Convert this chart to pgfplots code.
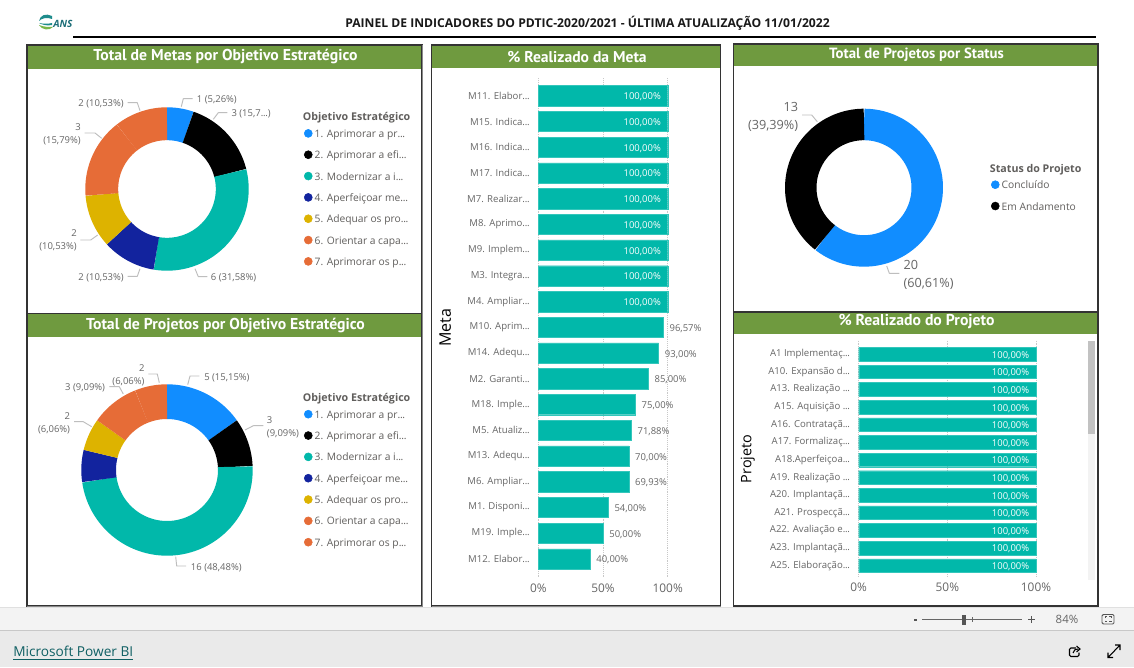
\documentclass[border=0pt]{standalone}
\usepackage{fontspec}
\usepackage{pgfplots}
\usepackage{pgfplotstable}
\pgfplotsset{compat=1.18}
\setmainfont{Open Sans}
\newfontfamily\din{PT Sans}
\protected\def\el{.\kern-0.2pt.\kern-0.2pt.}
\definecolor{cblue}{HTML}{118DFF}
\definecolor{cblack}{HTML}{000000}
\definecolor{cteal}{HTML}{01B8AA}
\definecolor{cnavy}{HTML}{12239E}
\definecolor{cgold}{HTML}{DDB300}
\definecolor{corange}{HTML}{E66C37}
\definecolor{cgreen}{HTML}{6F9A3F}
\definecolor{ctxt}{HTML}{666666}
\definecolor{cleg}{HTML}{605E5C}
\definecolor{cgrid}{HTML}{C8C8C8}
\definecolor{clead}{HTML}{BEBEBE}
\definecolor{gF3}{HTML}{F3F3F3}
\definecolor{gEA}{HTML}{EAEAEA}
\definecolor{gE0}{HTML}{E0E0E0}
\definecolor{gC8}{HTML}{C8C8C8}
\definecolor{g33}{HTML}{333333}
\definecolor{g8A}{HTML}{8A8A8A}
\definecolor{gC2}{HTML}{C2C2C2}
\definecolor{g66}{HTML}{666666}
\definecolor{g55}{HTML}{555555}
\definecolor{logoT}{HTML}{1E8C8C}
\definecolor{logoG}{HTML}{7AB648}
\definecolor{logoA}{HTML}{1C6E78}
\definecolor{linkc}{HTML}{0F5F63}

\pgfplotstableread{
v c
1 cblue
3 cblack
6 cteal
2 cnavy
2 cgold
3 corange
2 corange
}\tabMetas
\pgfplotstableread{
v c
5 cblue
3 cblack
16 cteal
2 cnavy
2 cgold
3 corange
2 corange
}\tabProj
\pgfplotstableread{
v c
20 cblue
13 cblack
}\tabStatus
\pgfplotstableread{
i v
0 100
1 100
2 100
3 100
4 100
5 100
6 100
7 100
8 100
}\tabMfull
\pgfplotstableread{
i v
9 96.57
10 93
11 85
12 75
13 71.88
14 70
15 69.93
16 54
17 50
18 40
}\tabMrest
\pgfplotstableread{
i v
0 100
1 100
2 100
3 100
4 100
5 100
6 100
7 100
8 100
9 100
10 100
11 100
12 100
}\tabP

\newcommand\donut[5]{% table, mid radius, thickness, total, last row
  \def\acc{0}%
  \pgfplotsforeachungrouped \i in {0,...,#5}{%
    \pgfplotstablegetelem{\i}{v}\of{#1}\let\val\pgfplotsretval
    \pgfplotstablegetelem{\i}{c}\of{#1}\let\col\pgfplotsretval
    \pgfmathsetmacro\nxt{\acc+\val}%
    \edef\tmp{\noexpand\addplot[forget plot, draw=\col, line width=#3*0.75pt, line cap=butt, line join=round, no markers, samples=60, domain=\acc:\nxt] ({#2*cos(90-360*x/#4)},{#2*sin(90-360*x/#4)});}%
    \tmp
    \let\acc\nxt
  }%
}
\newcommand\legdot[2]{\addlegendimage{legend image code/.code={\fill[#1] (0pt,0pt) circle (3pt);}}\addlegendentry{#2}}
\newcommand\legtitle[1]{\addlegendimage{empty legend}\addlegendentry{\hspace*{-8.8pt}\raisebox{-3.5pt}[0pt][0pt]{\fontsize{8pt}{10pt}\selectfont\textbf{#1}}}}

\pgfplotsset{
  donutaxis/.style={
    scale only axis, width=150pt, height=150pt,
    xmin=-100, xmax=100, ymin=-100, ymax=100,
    axis lines=none, clip=false, anchor=center,
    legend cell align=left,
    legend style={draw=none, fill=none, anchor=north west, inner sep=0pt, outer sep=0pt,
      row sep=6pt, text=cleg, font=\fontsize{7.7pt}{10pt}\selectfont,
      nodes={inner xsep=1.6pt, inner ysep=0pt, text height=8pt, text depth=2pt}},
  },
  baraxis/.style={
    scale only axis, xbar, bar shift=0pt,
    xmin=0, xmax=100, y dir=reverse, anchor=north west, clip=false,
    axis line style={draw=none}, major tick length=0pt,
    xmajorgrids, ymajorgrids=false,
    grid style={densely dotted, cgrid, line width=0.6pt},
    xtick={0,50,100}, xticklabels={0\%,50\%,100\%},
    xticklabel style={font=\fontsize{8.9pt}{12pt}\selectfont, text=ctxt, yshift=-1.2pt},
    yticklabel style={font=\fontsize{7.2pt}{10pt}\selectfont, text=ctxt, anchor=east, xshift=-3pt},
    point meta=x,
    /pgf/number format/assume math mode=true,
    every axis y label/.style={rotate=90, anchor=center, text=black},
  },
  inlab/.style={fill=cteal, draw=cteal!80!white, line width=0.3pt, nodes near coords={\pgfmathprintnumber[fixed,fixed zerofill,precision=2,use comma]{\pgfplotspointmeta}\%},
     nodes near coords style={font=\fontsize{7.1pt}{10pt}\selectfont, text=white, anchor=east, inner sep=0pt, xshift=-5pt, yshift=-0.9pt}},
  outlab/.style={fill=cteal, draw=cteal!80!white, line width=0.3pt, nodes near coords={\pgfmathprintnumber[fixed,fixed zerofill,precision=2,use comma]{\pgfplotspointmeta}\%},
     nodes near coords style={font=\fontsize{7.1pt}{10pt}\selectfont, text=ctxt, anchor=west, inner sep=0pt, xshift=4.6pt, yshift=-0.9pt}},
}

\begin{document}
\begin{tikzpicture}
\begin{scope}[x=0.75pt,y=-0.75pt]
\path[use as bounding box] (0,0) rectangle (1134,667);
\fill[white] (0,0) rectangle (1134,667);
% bottom bars
\fill[gF3] (0,607) rectangle (1134,630);
\fill[gEA] (0,631) rectangle (1134,667);
\draw[gE0, line width=0.75pt] (0,607) -- (1134,607);
\draw[gC8, line width=1pt] (0,630.5) -- (1134,630.5);
% header
\draw[black, line width=1.6pt] (73,37) -- (1096,37);
\node[font=\fontsize{9.1pt}{11pt}\selectfont\bfseries, text=black!90, inner sep=0pt] at (587.5,23.5) {PAINEL DE INDICADORES DO PDTIC-2020/2021 - ÚLTIMA ATUALIZAÇÃO 11/01/2022};
% logo
\fill[logoT] (52,16) .. controls (46,13) and (40,15) .. (39,21) .. controls (42,18) and (47,17) .. (52,19) -- cycle;
\fill[logoG] (39,25) .. controls (42,30) and (49,31) .. (53,27) .. controls (48,27) and (44,27) .. (39,25) -- cycle;
\fill[logoT] (39,23) .. controls (44,24) and (48,24) .. (52,23) -- (52,25) .. controls (47,26) and (43,25) .. (39,23) -- cycle;
\node[font=\fontsize{7.5pt}{8pt}\selectfont\bfseries\itshape, text=logoA, inner sep=0pt, anchor=west] at (53,24) {ANS};
% panels
\foreach \xa/\ya/\xb/\yb/\gb in {27/45/422/313.5/69, 27/313.5/422/606/337, 431.5/45/720.5/606/68.5, 733.5/44/1098/312/66.5, 733.5/312/1098/606/333.5}{
  \fill[white] (\xa,\ya) rectangle (\xb,\yb);
  \fill[cgreen] (\xa,\ya) rectangle (\xb,\gb);
  \draw[g33, line width=0.8pt] (\xa,\ya) rectangle (\xb,\yb);
}
\draw[g8A, line width=1.1pt] (422.3,45) -- (422.3,606.3) -- (27,606.3);
\draw[g8A, line width=1.1pt] (431.5,606.3) -- (720.5,606.3);
% panel titles
\begin{scope}[every node/.style={text=white, inner sep=0pt}]
\node[font=\din\bfseries\fontsize{11.8pt}{14pt}\selectfont] at (225.5,56.8) {Total de Metas por Objetivo Estratégico};
\node[font=\din\bfseries\fontsize{11.8pt}{14pt}\selectfont] at (225.5,325.8) {Total de Projetos por Objetivo Estratégico};
\node[font=\din\bfseries\fontsize{11.7pt}{14pt}\selectfont] at (577,56.8) {\% Realizado da Meta};
\node[font=\din\bfseries\fontsize{11.1pt}{14pt}\selectfont] at (916.5,55) {Total de Projetos por Status};
\node[font=\din\bfseries\fontsize{11.8pt}{14pt}\selectfont] at (916.5,322) {\% Realizado do Projeto};
\end{scope}
% scrollbar
\fill[gF3] (1088,340.7) rectangle (1095,580);
\fill[gC2] (1088,340.7) rectangle (1095,434);
% footer controls
\draw[g66, line width=0.8pt] (922,619.5) -- (1022,619.5);
\draw[g66, line width=0.6pt] (972,617) -- (972,622);
\fill[g55] (962,614.5) rectangle (966,624.5);
\fill[g55] (913.5,618.5) rectangle (917,620.5);
\draw[g55, line width=0.8pt] (1028,619.5) -- (1035,619.5) (1031.5,616) -- (1031.5,623);
\node[font=\fontsize{8.6pt}{10pt}\selectfont, text=g66, inner sep=0pt] at (1067,619) {84\%};
\draw[g55, line width=0.7pt, rounded corners=1pt] (1102,614.5) rectangle (1114,624);
\draw[g55, line width=0.7pt] (1105,618) -- (1105,616.8) -- (1107,616.8) (1109,616.8) -- (1111,616.8) -- (1111,618) (1105,620.5) -- (1105,621.8) -- (1107,621.8) (1109,621.8) -- (1111,621.8) -- (1111,620.5);
\node[font=\fontsize{10.25pt}{12pt}\selectfont, text=linkc, inner sep=0pt, anchor=west] at (13,653) {\underline{Microsoft Power BI}};
\draw[black, line width=0.8pt, rounded corners=1pt] (1076,648) -- (1069.5,648) -- (1069.5,656.5) -- (1079,656.5) -- (1079,652.5);
\draw[black, line width=0.8pt] (1073,653) .. controls (1073.5,650) and (1075.5,649) .. (1078,649) (1076.5,646) -- (1080,649) -- (1076.5,652);
\draw[black, line width=0.8pt] (1108,657.5) -- (1120,645) (1115,645) -- (1120,645) -- (1120,650) (1108,652.5) -- (1108,657.5) -- (1113,657.5);
% labels of donut 1
\begin{scope}[every node/.style={inner sep=0pt, text=ctxt, font=\fontsize{7.1pt}{10pt}\selectfont, align=right}]
\node[anchor=west] at (196.7,100) {1 (5,26\%)};
\node[anchor=west] at (231.3,114) {3 (15,7\el)};
\node[anchor=west] at (210.7,278) {6 (31,58\%)};
\node[anchor=east] at (124,278) {2 (10,53\%)};
\node[anchor=east] at (77,240.5) {2\\(10,53\%)};
\node[anchor=east] at (81,134) {3\\(15,79\%)};
\node[anchor=east] at (124,104) {2 (10,53\%)};
% donut 2
\node[anchor=west] at (204,378) {5 (15,15\%)};
\node[anchor=west,align=left] at (266.7,427.3) {3\\(9,09\%)};
\node[anchor=west] at (190.7,568) {16 (48,48\%)};
\node[anchor=east] at (70.3,423.5) {2\\(6,06\%)};
\node[anchor=east] at (105.3,388) {3 (9,09\%)};
\node[anchor=east] at (144.7,375.3) {2\\(6,06\%)};
% donut 3
\node[anchor=east, font=\fontsize{9.5pt}{13.7pt}\selectfont] at (798.3,117) {13\\(39,39\%)};
\node[anchor=west, align=left, font=\fontsize{9.5pt}{13.7pt}\selectfont] at (903.3,275) {20\\(60,61\%)};
\end{scope}
% leaders
\begin{scope}[clead, line width=0.7pt, line join=round]
\draw (181.3,106.7) -- (183.3,98.7) -- (192.7,98.7);
\draw (213.3,119.3) -- (218.3,112.7) -- (227.3,112.7);
\draw (195,268.7) -- (198.3,276.7) -- (207.3,276.7);
\draw (140,268.7) -- (137.3,276.3) -- (127.7,276.3);
\draw (97.7,235) -- (90.7,240) -- (80.3,240);
\draw (101.7,138.3) -- (95,133) -- (84.7,133);
\draw (140,110.7) -- (137.3,102.7) -- (127.7,102.7);
\draw (187.7,384.7) -- (190,376) -- (199.3,376);
\draw (245,430) -- (253.3,425.7) -- (263.3,425.7);
\draw (175.7,556.7) -- (176.7,566) -- (186,566);
\draw (91.7,426.7) -- (83.3,421.7) -- (74,421.7);
\draw (123.3,394) -- (119.3,386.7) -- (109.3,386.7);
\draw (159.3,382.7) -- (157.3,374) -- (148.3,374);
\draw (817.3,121.7) -- (811.7,115) -- (802,115);
\draw (886.7,266) -- (889.3,273.3) -- (899.3,273.3);
\end{scope}
\end{scope}

% donut 1
\begin{axis}[donutaxis, at={({167*0.75pt},{-189*0.75pt})},
  legend style={at={(1.185,0.918)}}]
\donut{\tabMetas}{65.25}{32.9}{19}{6}
\legtitle{Objetivo Estratégico}
\legdot{cblue}{1. Aprimorar a pr\el}
\legdot{cblack}{2. Aprimorar a efi\el}
\legdot{cteal}{3. Modernizar a i\el}
\legdot{cnavy}{4. Aperfeiçoar me\el}
\legdot{cgold}{5. Adequar os pro\el}
\legdot{corange}{6. Orientar a capa\el}
\legdot{corange}{7. Aprimorar os p\el}
\end{axis}
% donut 2
\begin{axis}[donutaxis, at={({167*0.75pt},{-470*0.75pt})},
  legend style={at={(1.185,0.919)}}]
\donut{\tabProj}{68.35}{34.7}{33}{6}
\legtitle{Objetivo Estratégico}
\legdot{cblue}{1. Aprimorar a pr\el}
\legdot{cblack}{2. Aprimorar a efi\el}
\legdot{cteal}{3. Modernizar a i\el}
\legdot{cnavy}{4. Aperfeiçoar me\el}
\legdot{cgold}{5. Adequar os pro\el}
\legdot{corange}{6. Orientar a capa\el}
\legdot{corange}{7. Aprimorar os p\el}
\end{axis}
% donut 3
\begin{axis}[donutaxis, at={({864*0.75pt},{-187.7*0.75pt})},
  legend style={at={(1.135,0.655)}}]
\donut{\tabStatus}{63.25}{31.5}{33}{1}
\legtitle{Status do Projeto}
\legdot{cblue}{Concluído}
\legdot{cblack}{Em Andamento}
\end{axis}
% metas bars
\begin{axis}[baraxis, at={({538.3*0.75pt},{-78*0.75pt})},
  width=129.4*0.75pt, height=500*0.75pt,
  ymin=-0.688, ymax=18.74, bar width=20.3*0.75pt,
  ytick={0,...,18},
  yticklabels={M11. Elabor\el,M15. Indica\el,M16. Indica\el,M17. Indica\el,M7. Realizar\el,M8. Aprimo\el,M9. Implem\el,M3. Integra\el,M4. Ampliar\el,M10. Aprim\el,M14. Adequ\el,M2. Garanti\el,M18. Imple\el,M5. Atualiz\el,M13. Adequ\el,M6. Ampliar\el,M1. Disponi\el,M19. Imple\el,M12. Elabor\el},
  ylabel=Meta,
  every axis y label/.append style={at={(axis description cs:-0.72,0.5)}, font=\fontsize{12pt}{14pt}\selectfont},
]
\addplot[inlab] table[x=v,y=i] {\tabMfull};
\addplot[outlab] table[x=v,y=i] {\tabMrest};
\end{axis}
% projetos bars
\begin{axis}[baraxis, at={({858.7*0.75pt},{-340.7*0.75pt})},
  width=177.3*0.75pt, height=236.3*0.75pt,
  ymin=-0.77, ymax=12.65, bar width=13.6*0.75pt,
  ytick={0,...,12},
  yticklabels={A1 Implementaç\el,A10. Expansão d\el,A13. Realização \el,A15. Aquisição \el,A16. Contrataçã\el,A17. Formalizaç\el,A18.Aperfeiçoa\el,A19. Realização \el,A20. Implantaçã\el,A21. Prospecçã\el,A22. Avaliação e\el,A23. Implantaçã\el,A25. Elaboração\el},
  ylabel=Projeto,
  every axis y label/.append style={at={(axis description cs:-0.625,0.5)}, font=\fontsize{10.8pt}{14pt}\selectfont},
]
\addplot[inlab] table[x=v,y=i] {\tabP};
\end{axis}
\end{tikzpicture}
\end{document}
